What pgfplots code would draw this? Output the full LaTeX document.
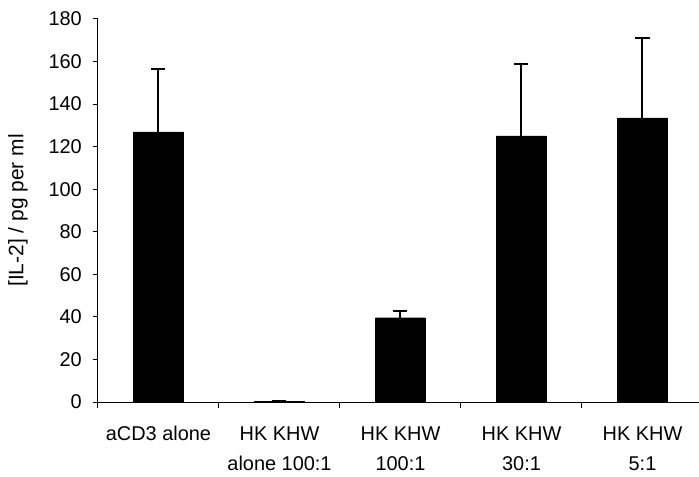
\documentclass[border=0pt]{standalone}
\usepackage{fontspec}
\setmainfont{Liberation Sans}
\usepackage{pgfplots}
\pgfplotsset{compat=1.18}
\begin{document}
\begin{tikzpicture}
\begin{axis}[
  at={(0,0)}, anchor=south west,
  scale only axis, width=601bp, height=383bp,
  xmin=-0.5, xmax=4.467, ymin=0, ymax=180,
  axis x line*=bottom, axis y line*=left,
  axis line style={black, line width=1bp},
  /pgf/number format/assume math mode=true,
  ytick={0,20,...,180},
  xtick={0,1,2,3,4},
  xticklabels={aCD3 alone, HK KHW\\alone 100:1, HK KHW\\100:1, HK KHW\\30:1, HK KHW\\5:1},
  major x tick style={draw=none},
  minor xtick={-0.5,0.5,1.5,2.5,3.5},
  tick align=outside,
  major tick length=5bp, minor tick length=6bp,
  tick style={black, line width=1bp},
  minor tick style={black, line width=1bp},
  yticklabel style={font=\fontsize{20}{24}\selectfont, inner sep=0pt, anchor=east, xshift=-11bp},
  xticklabel style={font=\fontsize{20}{30}\selectfont, align=center, anchor=north, yshift=-16bp},
  ylabel={[IL-2] / pg per ml},
  ylabel style={font=\fontsize{21}{24}\selectfont, at={(axis description cs:-0.1331,0.5)}, anchor=center},
  ybar, bar width=50bp,
]
\addplot[fill=black, draw=black,
  error bars/.cd, y dir=plus, y explicit,
  error bar style={black, line width=2bp},
  error mark options={rotate=90, mark size=7bp, line width=2bp, black}]
  table[x=x, y=y, y error=e] {
x y e
0 127.0 29.5
1 0.3 0
2 39.6 3.3
3 125.1 33.6
4 133.5 37.4
};
\end{axis}
\pgfresetboundingbox
\path[use as bounding box] (-98bp,-75bp) rectangle (601bp,402bp);
\end{tikzpicture}
\end{document}
